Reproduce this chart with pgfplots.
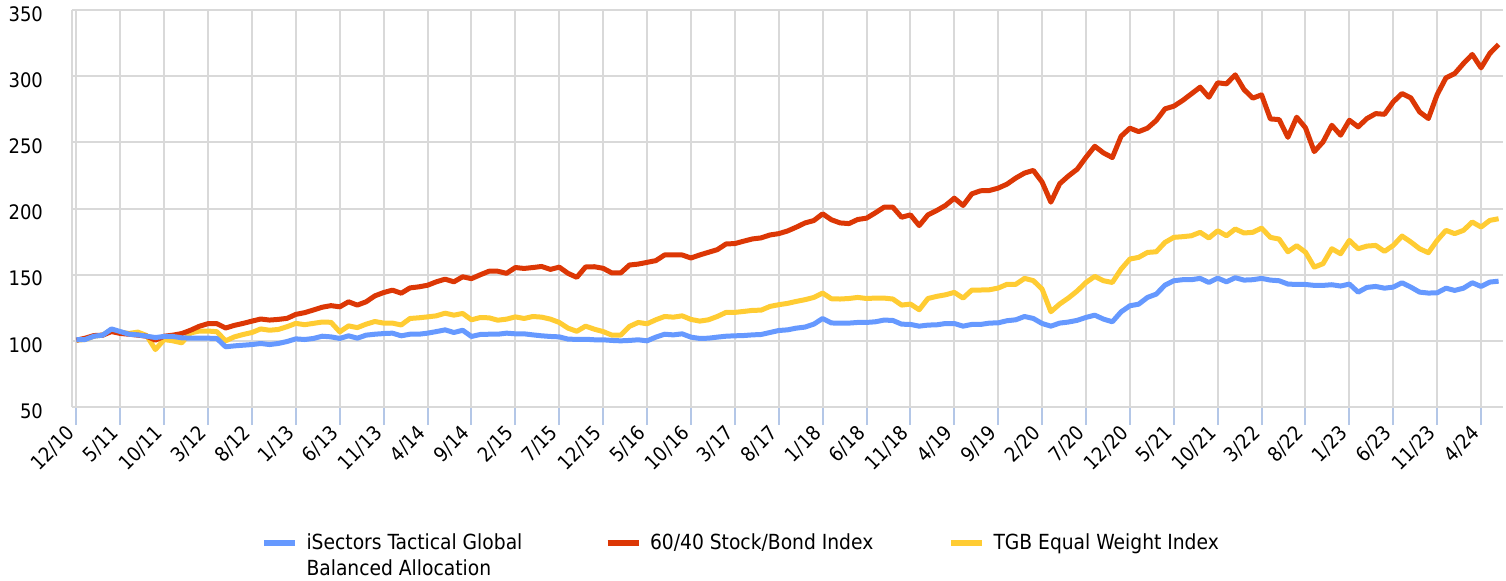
\documentclass[border=0pt]{standalone}
\usepackage{fontspec}
\setmainfont{DejaVu Sans Condensed}
\usepackage{pgfplots}
\pgfplotsset{compat=1.18}
\usepackage{pgfplotstable}
\definecolor{cblue}{RGB}{102,153,255}
\definecolor{cred}{RGB}{220,55,5}
\definecolor{cyellow}{RGB}{255,204,51}
\definecolor{cgrid}{RGB}{217,217,217}
\definecolor{ctick}{RGB}{180,199,231}

\pgfplotstableread{
m b r y
0 101 100.5 100.5
1 101 102 101
2 103.5 104 103.5
3 104.3 104.3 104.3
4 109 107 108.6
5 107 105.6 106.6
6 105 105 105.6
7 104.5 104.3 106.6
8 103.5 103.5 104
9 102.5 100.5 93.4
10 103.3 103.5 101
11 103.3 104.3 100
12 102.3 105.5 98.5
13 102 108 106
14 102 111 107.4
15 102 113 107.4
16 101.8 113 106.9
17 95.5 109.7 100
18 96.2 111.7 103
19 96.7 113.2 104.8
20 97.2 114.9 106.3
21 98 116.5 109
22 97.2 115.7 108
23 98 116.2 108.6
24 99.5 117 110.7
25 101.5 120 113.2
26 101 121.3 112.2
27 101.8 123.3 113.2
28 103.5 125.4 114.2
29 103 126.6 114
30 101.8 125.7 106.8
31 103.8 129.5 111.3
32 102 127 110
33 104.3 129.5 112.6
34 105 134 114.6
35 105.5 136.5 113.4
36 105.8 138.3 113.4
37 103.8 136 112
38 105 140 116.9
39 105 140.8 117.4
40 105.8 142 118.1
41 107 144.6 118.9
42 108.3 146.6 120.9
43 106.3 144.6 119.4
44 108 148.4 120.7
45 103.3 147 115.9
46 104.8 149.9 117.6
47 105 152.6 117.4
48 105 152.6 115.6
49 105.8 151 116.4
50 105.3 155.4 118.1
51 105.3 154.7 116.9
52 104.5 155.4 118.4
53 103.8 156.2 117.9
54 103.3 154 116.4
55 103 155.7 113.9
56 101.3 151 109.6
57 101.1 148 107.2
58 101.2 155.8 111.1
59 100.8 156 108.8
60 100.8 154.8 107
61 100.3 151.3 104.3
62 100 151.3 104.3
63 100.3 157.3 110.9
64 100.8 158 113.9
65 100 159.3 112.9
66 102.8 160.6 115.9
67 105 164.9 118.4
68 104.5 164.9 117.9
69 105.3 164.9 118.9
70 102.8 162.6 116.2
71 101.8 164.9 114.9
72 102 166.9 115.9
73 102.8 168.9 118.4
74 103.5 173.2 121.5
75 103.8 173.5 121.5
76 104 175.3 122.2
77 104.5 177 123
78 104.8 177.8 123.2
79 106.3 180 126
80 107.8 181 127.3
81 108.3 183 128.3
82 109.6 185.9 129.8
83 110.4 189.1 131.1
84 112.6 190.9 132.8
85 116.9 196 136.1
86 113.5 191.5 131.8
87 113.4 189.1 131.6
88 113.4 188.6 132
89 113.9 191.7 132.8
90 113.9 192.7 132
91 114.4 196.7 132.3
92 115.7 201 132.3
93 115.4 201 131.6
94 112.6 193.4 127
95 112.4 195.2 127.8
96 111.1 187.1 123.5
97 111.9 195.2 132
98 112.1 198.5 133.6
99 113.1 202.3 134.8
100 113.1 207.8 136.6
101 111.1 202.3 132.3
102 112.4 211.1 138.4
103 112.4 213.4 138.4
104 113.4 213.6 138.6
105 113.6 215.4 139.9
106 115.2 218.4 142.7
107 115.9 223 142.7
108 118.4 226.8 147.2
109 116.9 228.8 145.5
110 113.1 220 139.1
111 111.1 204.8 122
112 113.4 218.7 127.8
113 114.2 224.6 132.4
114 115.5 229.7 137.7
115 117.7 238.7 144.1
116 119.4 247 148.7
117 116.4 242 145.4
118 114.4 238.5 144.1
119 121.9 254.6 154.2
120 126.5 260.7 161.8
121 127.7 258.1 163.1
122 132.8 260.7 166.8
123 135.3 266.5 167.3
124 142.1 275.3 174.4
125 145.4 277.3 178.2
126 146.2 281.6 178.7
127 146.2 286.6 179.4
128 147.2 291.7 182
129 144.1 284.1 177.7
130 147.4 295 183.2
131 144.6 294.2 179.4
132 147.7 301 184.5
133 145.9 289.9 181.5
134 146.2 283.4 182
135 147.2 285.9 185.2
136 145.9 267.7 178.2
137 145.4 267.2 176.9
138 142.9 253.8 167.3
139 142.6 269 171.9
140 142.6 261 167
141 141.9 243 155.7
142 141.9 250.3 158.3
143 142.4 262.9 169.6
144 141.4 255.4 165.8
145 142.9 266.7 175.9
146 136.8 261.7 169.6
147 140.4 268 171.6
148 141.1 271.7 172.1
149 139.8 271.2 167.6
150 140.6 280.6 172.1
151 143.9 286.9 179.2
152 140.6 283.6 174.7
153 136.8 273 169.6
154 136.1 268 166.6
155 136.3 286.1 175.9
156 139.8 298.7 183.5
157 138.1 302 181
158 139.8 309.6 183.5
159 143.9 316.4 189.8
160 141.1 306.3 186
161 144.4 317.2 191
162 145.1 324 192.3
}\data

\begin{document}
\begin{tikzpicture}
\begin{axis}[
  at={(0,0)}, anchor=south west,
  scale only axis, width=715.5pt, height=198.5pt,
  xmin=-0.5, xmax=162.5, ymin=50, ymax=350,
  axis x line*=bottom, axis y line*=left,
  axis line style={draw=cgrid, line width=1pt},
  xtick={0,5,...,160},
  xticklabels={12/10,5/11,10/11,3/12,8/12,1/13,6/13,11/13,4/14,9/14,2/15,7/15,12/15,5/16,10/16,3/17,8/17,1/18,6/18,11/18,4/19,9/19,2/20,7/20,12/20,5/21,10/21,3/22,8/22,1/23,6/23,11/23,4/24},
  ytick={50,100,...,350},
  grid=major, grid style={draw=cgrid, line width=1pt},
  tick align=outside,
  major tick length=9pt,
  xtick style={draw=ctick, line width=1pt},
  ytick style={draw=none},
  ticklabel style={font=\fontsize{10}{12}\selectfont},
  /pgf/number format/assume math mode=true,
  xticklabel style={rotate=45, anchor=east},
  yticklabel style={xshift=-2pt, yshift=-2pt},
  legend columns=3, reverse legend,
  legend cell align=left,
  legend image code/.code={\draw[#1, line width=3pt] (0pt,0pt) -- (15.5pt,0pt); \path (17.5pt,0pt);},
  legend style={at={(0.1318,-0.312)}, anchor=north west, draw=none, fill=none,
    inner sep=0pt, font=\fontsize{10.4}{13}\selectfont,
    nodes={inner xsep=2.5pt, inner ysep=1pt},
    /tikz/every even column/.append style={column sep=0pt}},
]
\addplot[cyellow, line width=2.5pt, line join=round] table[x=m,y=y]{\data};
\addlegendentry{TGB Equal Weight Index}
\addplot[cred, line width=2.5pt, line join=round] table[x=m,y=r]{\data};
\addlegendentry{\makebox[146.5pt][l]{60/40 Stock/Bond Index}}
\addplot[cblue, line width=2.5pt, line join=round] table[x=m,y=b]{\data};
\addlegendentry{\parbox[t]{146.5pt}{iSectors Tactical Global\\Balanced Allocation}}
\end{axis}
\pgfresetboundingbox
\path[use as bounding box] (-36pt,-86.5pt) rectangle (717pt,203.5pt);
\end{tikzpicture}
\end{document}
